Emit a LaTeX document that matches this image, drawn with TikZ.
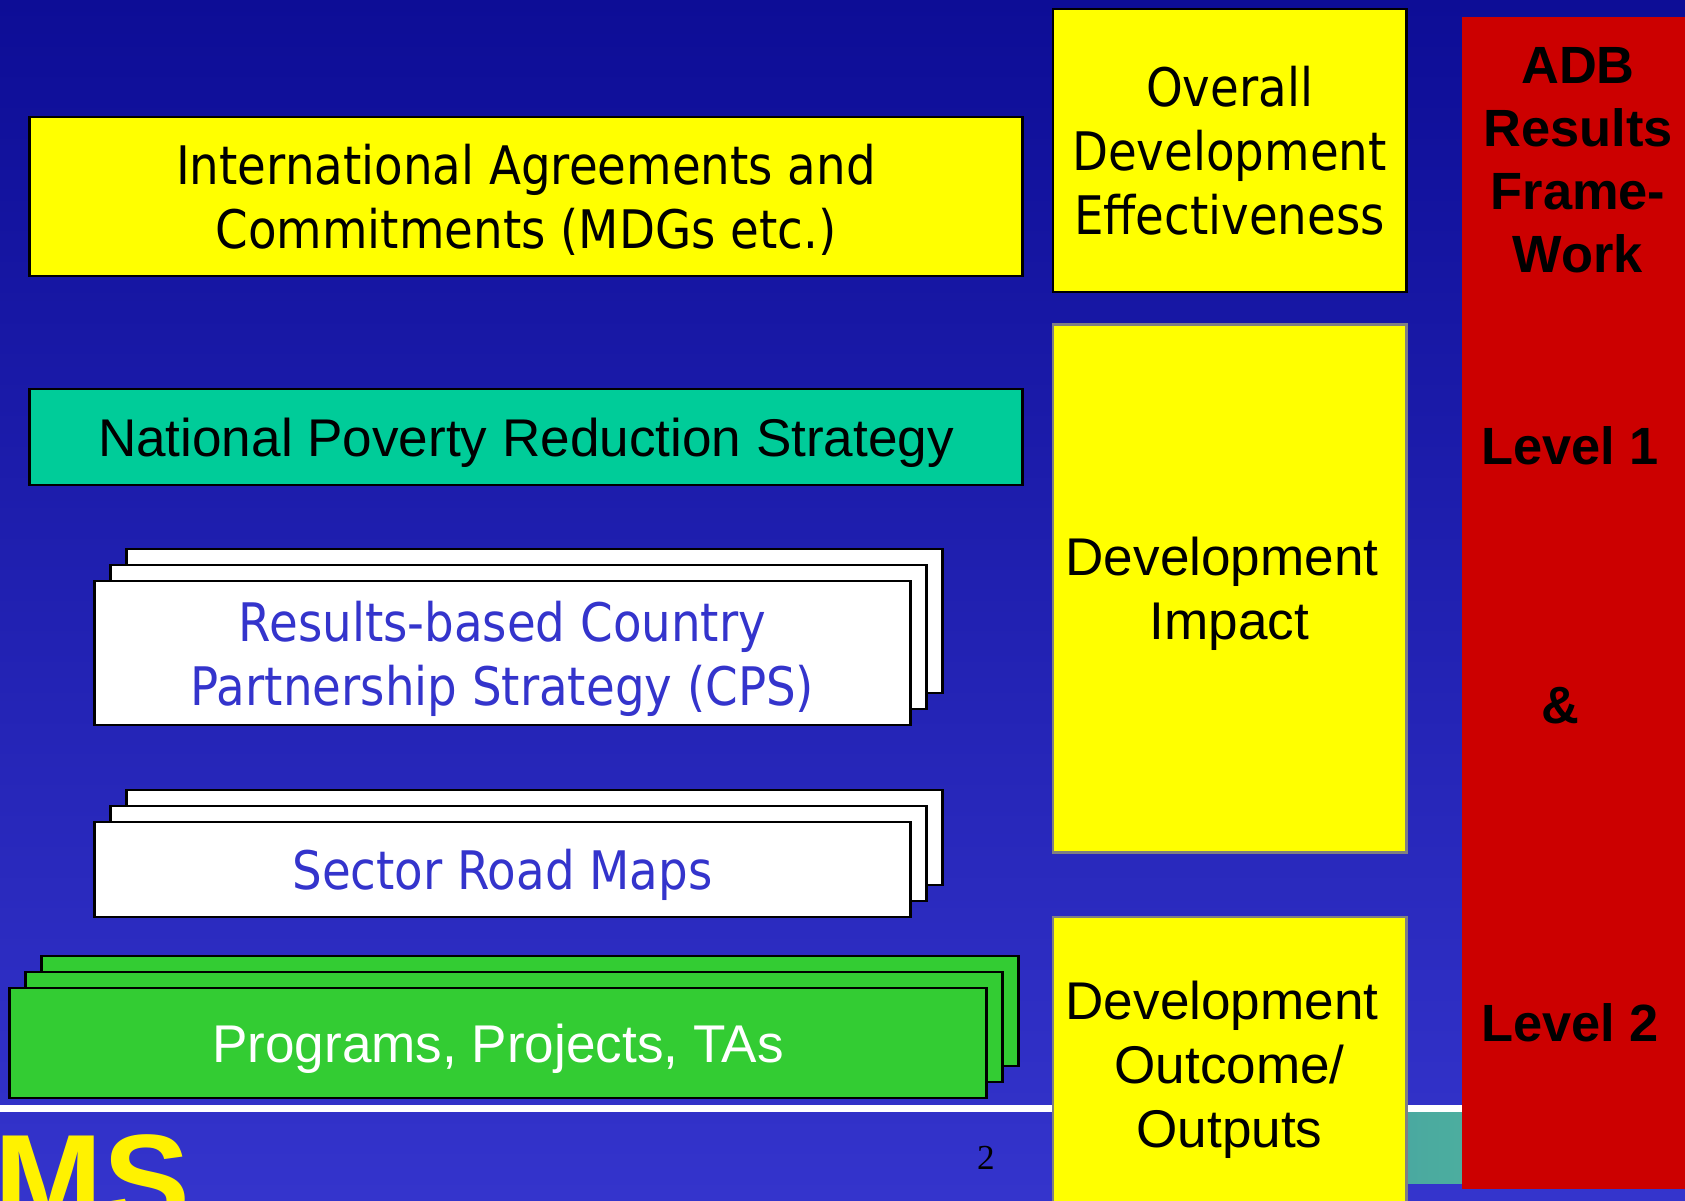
\documentclass[tikz,border=0pt]{standalone}
\usepackage{fontspec}
\setmainfont{Liberation Sans}
\newfontfamily\tahoma[FakeStretch=0.88]{DejaVu Sans}
\newfontfamily\timesfont{Liberation Serif}
\usepackage{xcolor}
\usetikzlibrary{positioning}
\definecolor{slidetop}{HTML}{0D0D96}
\definecolor{slideblue}{HTML}{3434CC}
\definecolor{boxyellow}{HTML}{FFFF00}
\definecolor{npgreen}{HTML}{00CC99}
\definecolor{progreen}{HTML}{33CC33}
\definecolor{adbred}{HTML}{CC0000}
\definecolor{stripl}{HTML}{4AA8A0}
\definecolor{stripr}{HTML}{52C299}
\newcommand{\tahfont}{\tahoma\fontsize{15.1}{18.2}\selectfont}
\newcommand{\arfont}{\fontsize{15.1}{18.2}\selectfont}
\newcommand{\arbfont}{\bfseries\fontsize{14.9}{17.9}\selectfont}
\tikzstyle{slidebox} = [draw=black, line width=0.8pt, inner sep=0pt, outer sep=0pt, align=center, text depth=0pt]
\tikzstyle{goalbox} = [slidebox, fill=boxyellow, minimum width=9.92cm, minimum height=1.59cm, font=\tahfont]
\tikzstyle{nprsbox} = [slidebox, fill=npgreen, minimum width=9.92cm, minimum height=0.96cm, font=\arfont]
\tikzstyle{paperbox} = [slidebox, fill=white, minimum width=8.15cm, text=slideblue, font=\tahfont]
\tikzstyle{progbox} = [slidebox, fill=progreen, minimum width=9.76cm, minimum height=1.10cm, text=white, font=\arfont]
\tikzstyle{levelbox} = [slidebox, fill=boxyellow, draw=gray, minimum width=3.53cm, font=\arfont]
\tikzstyle{redtext} = [inner sep=0pt, align=center, font=\arbfont]

\begin{document}
\begin{tikzpicture}[x=0.01cm,y=-0.01cm]
      \useasboundingbox (0,0) rectangle (1685,1200);
      \clip (0,0) rectangle (1685,1200);
      %%%% slide background
      \shade[top color=slidetop, bottom color=slideblue] (0,0) rectangle (1685,1200);
      \fill[white] (0,1105) rectangle (1685,1112);
      \shade[left color=stripl, right color=stripr] (1400,1112) rectangle (1685,1183);
      %%%% left column
      \draw (526,196.5) node (intl) [goalbox] {International Agreements and\\Commitments (MDGs etc.)};
      \draw (526,437) node (nprs) [nprsbox] {National Poverty Reduction Strategy};
      \draw (534.5,621) node (cps3) [paperbox, minimum height=1.44cm] {};
      \draw (518.5,637) node (cps2) [paperbox, minimum height=1.44cm] {};
      \draw (502.5,653) node (cps) [paperbox, minimum height=1.44cm] {Results-based Country\\Partnership Strategy (CPS)};
      \draw (534.5,837.5) node (srm3) [paperbox, minimum height=0.95cm] {};
      \draw (518.5,853.5) node (srm2) [paperbox, minimum height=0.95cm] {};
      \draw (502.5,869.5) node (srm) [paperbox, minimum height=0.95cm] {Sector Road Maps};
      \draw (530,1011) node (prog3) [progbox] {};
      \draw (514,1027) node (prog2) [progbox] {};
      \draw (498,1043) node (prog) [progbox] {Programs, Projects, TAs};
      %%%% yellow column
      \draw (1229.5,150.5) node (ode) [levelbox, draw=black, minimum height=2.83cm, font=\tahfont] {Overall\\Development\\Effectiveness};
      \draw (1229.5,588.5) node (di) [levelbox, minimum height=5.27cm] {Development\hspace*{.28em}\\Impact};
      \draw (1229.5,1064) node (doo) [levelbox, minimum height=2.94cm] {Development\hspace*{.28em}\\Outcome/\\Outputs};
      %%%% red column
      \fill[adbred] (1462,17) rectangle (1700,1189);
      \draw (1578,160.5) node (adb) [redtext] {ADB\\Results\\Frame-\\Work};
      \draw (1570,446) node (lvlone) [redtext] {Level 1};
      \draw (1560,706) node (amp) [redtext] {\&};
      \draw (1570,1023) node (lvltwo) [redtext] {Level 2};
      %%%% footer
      \draw (986,1158) node (pgno) [inner sep=0pt, font=\timesfont\fontsize{10}{12}\selectfont] {2};
      \draw (-6,1225) node (ms) [anchor=base west, inner sep=0pt, text=yellow, font=\bfseries\fontsize{37}{40}\selectfont] {MS};
\end{tikzpicture}
\end{document}
